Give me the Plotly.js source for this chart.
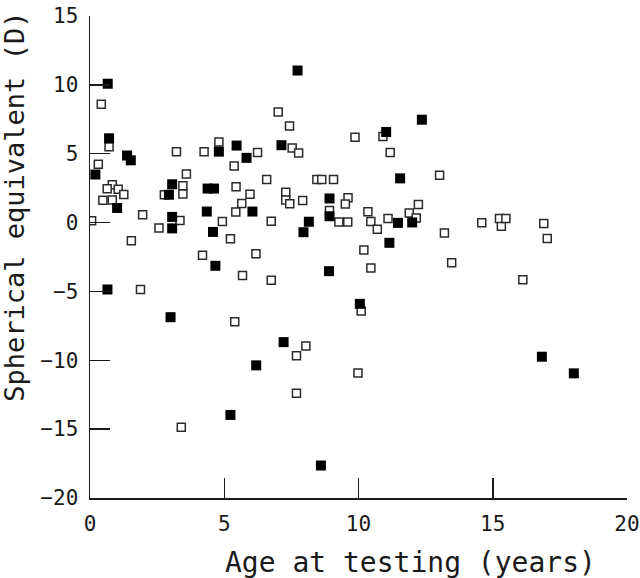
<!DOCTYPE html>
<html>
<head>
<meta charset="utf-8">
<script src="https://cdn.plot.ly/plotly-3.0.1.min.js"></script>
<style>html,body{margin:0;padding:0;background:#fff;}#chart{width:640px;height:578px;}</style>
</head>
<body>
<div id="chart"></div>
<script>
// Open squares
const openX = [0.42,0.71,3.22,4.25,4.80,6.24,5.37,0.31,3.59,3.46,3.46,2.77,0.83,0.64,1.05,1.26,0.48,0.83,1.96,0.06,3.35,2.57,1.54,4.19,6.18,5.44,5.96,5.65,5.43,4.93,5.23,7.01,7.43,9.87,10.91,11.18,7.53,7.77,6.58,8.45,8.63,9.07,13.02,7.29,7.29,7.44,7.92,9.61,9.51,8.92,6.75,9.27,9.60,10.35,10.46,10.70,11.10,11.89,12.23,12.15,10.20,13.20,13.47,14.59,15.32,15.25,15.49,16.90,17.03,16.12,5.68,6.75,1.88,5.39,3.40,10.46,10.10,8.04,7.69,9.98,7.69];
const openY = [8.6,5.5,5.15,5.15,5.85,5.09,4.1,4.23,3.53,2.68,2.07,2.02,2.74,2.45,2.42,2.04,1.62,1.63,0.57,0.13,0.15,-0.39,-1.32,-2.37,-2.27,2.6,2.05,1.38,0.77,0.07,-1.17,8.03,7.01,6.2,6.25,5.08,5.42,5.05,3.12,3.12,3.12,3.12,3.43,2.2,1.63,1.36,1.6,1.8,1.35,0.87,0.1,0.05,0.05,0.78,0.08,-0.48,0.29,0.7,1.31,0.34,-2.0,-0.75,-2.92,-0.02,-0.27,0.29,0.29,-0.07,-1.16,-4.16,-3.84,-4.18,-4.86,-7.2,-14.87,-3.29,-6.43,-8.97,-9.67,-10.93,-12.4];
// Filled squares
const fillX = [0.66,0.71,1.38,1.52,4.80,5.46,5.83,0.20,3.06,2.94,1.01,3.06,3.06,4.38,4.62,6.05,4.35,4.58,7.73,12.36,11.03,7.13,11.55,8.92,8.92,8.15,7.95,11.47,12.00,11.15,4.67,0.65,3.00,6.19,5.23,8.90,10.05,7.21,8.60,16.83,18.02];
const fillY = [10.08,6.12,4.87,4.52,5.15,5.59,4.7,3.49,2.78,2.02,1.06,0.41,-0.42,2.47,2.47,0.8,0.8,-0.68,11.04,7.47,6.58,5.62,3.21,1.75,0.46,0.06,-0.70,-0.02,0.01,-1.47,-3.14,-4.86,-6.87,-10.37,-13.97,-3.53,-5.9,-8.68,-17.64,-9.74,-10.95];

const xTicks = [0,5,10,15,20];
const yTicks = [-20,-15,-10,-5,0,5,10,15];
const xTitle = 'Age at testing (years)';
const yTitle = 'Spherical equivalent (D)';

const FONT = '"DejaVu Sans Mono", "Liberation Mono", monospace';
const INK = '#1a1a1a';

const traces = [
  {x: openX, y: openY, type: 'scatter', mode: 'markers', name: 'open',
   marker: {symbol: 'square', size: 8, color: '#ffffff', line: {color: '#2a2a2a', width: 1.5}},
   hoverinfo: 'x+y'},
  {x: fillX, y: fillY, type: 'scatter', mode: 'markers', name: 'filled',
   marker: {symbol: 'square', size: 10, color: '#000000', line: {width: 0}},
   hoverinfo: 'x+y'}
];

const axisCommon = {
  showgrid: false, zeroline: false, showline: true, linecolor: INK, linewidth: 1.5,
  ticks: 'inside', ticklen: 20, tickwidth: 1.5, tickcolor: INK,
  tickfont: {family: FONT, size: 21, color: INK}, mirror: false, fixedrange: true
};

const layout = {
  width: 640, height: 578,
  margin: {l: 89.6, r: 13, t: 16, b: 79.5, pad: 0},
  paper_bgcolor: '#ffffff', plot_bgcolor: '#ffffff',
  showlegend: false,
  font: {family: FONT, color: INK},
  xaxis: Object.assign({}, axisCommon, {range: [0, 20], tickvals: xTicks, ticktext: xTicks.map(String), ticklabelstandoff: 6}),
  yaxis: Object.assign({}, axisCommon, {range: [-20, 15], tickvals: yTicks, ticktext: yTicks.map(v => v < 0 ? '\u2212' + Math.abs(v) : String(v)), ticklabelstandoff: 6}),
  annotations: [
    {text: xTitle, xref: 'paper', yref: 'paper', x: 0.5962, y: -0.1337, xanchor: 'center', yanchor: 'middle', showarrow: false, font: {family: FONT, size: 28, color: INK}},
    {text: yTitle, xref: 'paper', yref: 'paper', x: -0.1407, y: 0.6052, xanchor: 'center', yanchor: 'middle', textangle: -90, showarrow: false, font: {family: FONT, size: 27, color: INK}}
  ]
};

Plotly.newPlot('chart', traces, layout, {displayModeBar: false, staticPlot: true});
</script>
</body>
</html>
